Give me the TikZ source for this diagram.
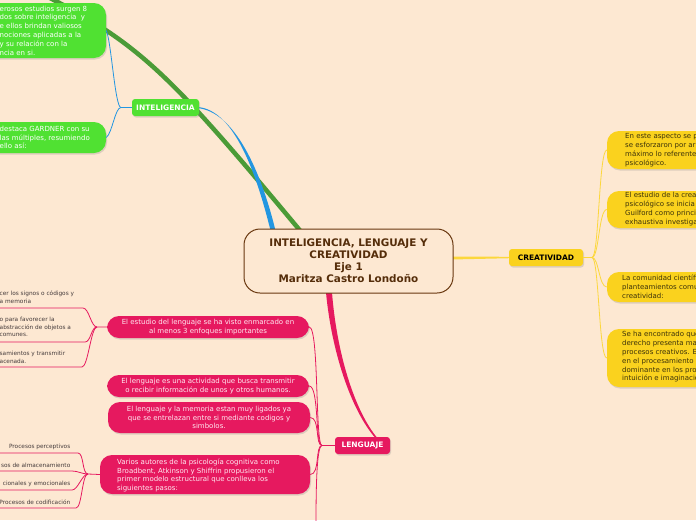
\documentclass[tikz,border=0pt]{standalone}
\usepackage{fontspec}
\setmainfont{DejaVu Sans}
\usetikzlibrary{calc,shadows,positioning}
\definecolor{MmPeach}{RGB}{253,232,210}
\definecolor{MmBrown}{RGB}{105,55,15}
\definecolor{MmBrownText}{RGB}{85,45,10}
\definecolor{MmGreen}{RGB}{80,225,50}
\definecolor{MmDarkGreen}{RGB}{75,155,55}
\definecolor{MmBlue}{RGB}{35,150,225}
\definecolor{MmYellow}{RGB}{250,210,30}
\definecolor{MmYellowLine}{RGB}{252,215,60}
\definecolor{MmPink}{RGB}{230,25,95}
\definecolor{MmPinkText}{RGB}{255,232,240}
\definecolor{MmInk}{RGB}{60,50,10}
\definecolor{MmGrayText}{RGB}{70,60,60}
\pgfdeclarelayer{paper}
\pgfdeclarelayer{branches}
\pgfsetlayers{paper,branches,main}
\tikzset{
  mm/central/.style={
    draw=MmBrown,
    line width=1pt,
    rounded corners=16pt,
    fill=MmPeach,
    text=MmBrownText,
    align=center,
    inner sep=0pt,
    minimum width=209pt,
    minimum height=64pt,
    font=\fontsize{10.4}{12}\selectfont\bfseries
  },
  mm/shadow/.style={drop shadow={shadow xshift=1pt, shadow yshift=-1.5pt, opacity=0.25}},
  mm/topic/.style={
    mm/shadow,
    rounded corners=3pt,
    inner sep=0pt,
    minimum height=17pt,
    font=\fontsize{7.5}{9}\selectfont\bfseries
  },
  mm/bubble/.style={
    mm/shadow,
    rounded corners=12pt,
    inner sep=0pt
  },
  mm/pinkbubble/.style={
    mm/bubble,
    fill=MmPink,
    text=MmPinkText,
    align=center,
    font=\fontsize{7}{8.8}\selectfont
  },
  mm/bubbletext/.style={inner sep=0pt, align=left, font=\fontsize{7}{8.8}\selectfont},
  mm/subtext/.style={inner sep=0pt, text=MmGrayText, font=\fontsize{5.8}{7.8}\selectfont},
  mm/thin/.style={line width=0.8pt},
  mm/bluethin/.style={mm/thin, draw=MmBlue},
  mm/yellowthin/.style={mm/thin, draw=MmYellowLine},
  mm/pinkthin/.style={mm/thin, draw=MmPink}
}
\begin{document}
\begin{tikzpicture}[x=1pt,y=-1pt]
  \useasboundingbox (0,0) rectangle (696,520);
  \begin{pgfonlayer}{paper}
    \fill[MmPeach] (0,0) rectangle (696,520);
  \end{pgfonlayer}

  % central topic and main topics
  \node[mm/central] (central) at (348.5,261) {INTELIGENCIA, LENGUAJE Y\\CREATIVIDAD\\Eje 1\\Maritza Castro Londoño};
  \node[mm/topic,fill=MmGreen,text=white,minimum width=67pt] (inteligencia) at (165.5,107.5) {INTELIGENCIA};
  \node[mm/topic,fill=MmYellow,text=black,minimum width=74pt] (creatividad) at (546,257.5) {CREATIVIDAD};
  \node[mm/topic,fill=MmPink,text=white,minimum width=55pt] (lenguaje) at (362.5,445.5) {LENGUAJE};

  % inteligencia
  \node[mm/bubble,fill=MmGreen,minimum width=150pt,minimum height=55pt] (intA) at (31,30.5) {};
  \node[mm/bubbletext,text=white,anchor=west] (intAtext) at (-0.5,30.5)
    {erosos estudios surgen 8\\dos sobre inteligencia\ \ y\\e ellos brindan valiosos\\nociones aplicadas a la\\y su relación con la\\ncia en si.};
  \node[mm/bubble,fill=MmGreen,minimum width=150pt,minimum height=31pt] (intB) at (31,137.5) {};
  \node[mm/bubbletext,text=white,anchor=west] (intBtext) at (-0.5,137.5)
    {destaca GARDNER con su\\las múltiples, resumiendo\\ello así:};
  \coordinate (ij) at (121,107.5);
  \draw[mm/bluethin] (inteligencia.west) -- (ij) .. controls +(-6,0) and +(5,10) .. (intA.east);
  \draw[mm/bluethin] (ij) .. controls +(-6,0) and +(6,-4) .. (intB.east);

  % creatividad
  \node[mm/bubble,fill=MmYellow,minimum width=150pt,minimum height=38pt] (creA) at (682,150) {};
  \node[mm/bubbletext,text=MmInk,anchor=west] (creAtext) at (625,150)
    {En este aspecto se p\\se esforzaron por ar\\máximo lo referente\\psicológico.};
  \node[mm/bubble,fill=MmYellow,minimum width=150pt,minimum height=37pt] (creB) at (682,209.5) {};
  \node[mm/bubbletext,text=MmInk,anchor=west] (creBtext) at (625,209)
    {El estudio de la crea\\psicológico se inicia\\Guilford como princi\\exhaustiva investiga};
  \node[mm/bubble,fill=MmYellow,minimum width=150pt,minimum height=30pt] (creC) at (682,287) {};
  \node[mm/bubbletext,text=MmInk,anchor=west] (creCtext) at (622,287)
    {La comunidad científi\\planteamientos comu\\creatividad:};
  \node[mm/bubble,fill=MmYellow,minimum width=150pt,minimum height=58pt] (creD) at (682,358) {};
  \node[mm/bubbletext,text=MmInk,anchor=west] (creDtext) at (622,357)
    {Se ha encontrado que\\derecho presenta ma\\procesos creativos. E\\en el procesamiento\\dominante en los pro\\intuición e imaginació};
  \coordinate (cj) at (592,257.5);
  \draw[mm/yellowthin] (creatividad.east) -- (cj) .. controls +(7,0) and +(-8,0) .. (creA.west);
  \draw[mm/yellowthin] (cj) .. controls +(7,0) and +(-8,0) .. (creB.west);
  \draw[mm/yellowthin] (cj) .. controls +(7,0) and +(-8,0) .. (creC.west);
  \draw[mm/yellowthin] (cj) .. controls +(7,0) and +(-8,0) .. (creD.west);

  % lenguaje
  \node[mm/pinkbubble,minimum width=202pt,minimum height=22pt] (lenA) at (208,327)
    {El estudio del lenguaje se ha visto enmarcado en\\al menos 3 enfoques importantes};
  \node[mm/pinkbubble,minimum width=202pt,minimum height=22pt] (lenB) at (208,386)
    {El lenguaje es una actividad que busca transmitir\\o recibir información de unos y otros humanos.};
  \node[mm/pinkbubble,minimum width=202pt,minimum height=31pt] (lenC) at (209,417.5)
    {El lenguaje y la memoria estan muy ligados ya\\que se entrelazan entre si mediante codigos y\\simbolos.};
  \node[mm/bubble,fill=MmPink,minimum width=210pt,minimum height=39pt] (lenD) at (205,474.5) {};
  \node[mm/bubbletext,text=MmPinkText,anchor=west] (lenDtext) at (117,475.5)
    {Varios autores de la psicología cognitiva como\\Broadbent, Atkinson y Shiffrin propusieron el\\primer modelo estructural que conlleva los\\siguientes pasos:};
  \coordinate (lj) at (322,445.5);
  \coordinate (lout) at (316,530);
  \draw[mm/pinkthin] (lenguaje.west) -- (lj) .. controls +(-7,0) and +(10,0) .. (lenA.east);
  \draw[mm/pinkthin] (lj) .. controls +(-7,0) and +(10,0) .. (lenB.east);
  \draw[mm/pinkthin] (lj) .. controls +(-7,0) and +(10,0) .. (lenC.east);
  \draw[mm/pinkthin] (lj) .. controls +(-7,0) and +(10,0) .. (lenD.east);
  \draw[mm/pinkthin] (lj) .. controls +(-6,0) and +(0,-30) .. (lout);

  % enfoques
  \node[mm/subtext,align=left,anchor=west] (enfA) at (-0.5,297.5) {cer los signos o códigos y\\a memoria};
  \node[mm/subtext,align=left,anchor=west] (enfB) at (-0.5,327) {o para favorecer la\\abstracción de objetos a\\comunes.};
  \node[mm/subtext,align=left,anchor=west] (enfC) at (-0.5,357) {samientos y transmitir\\acenada.};
  \coordinate (aj) at (97,327);
  \coordinate (enfA-end) at (83,308);
  \coordinate (enfB-end) at (85,342);
  \coordinate (enfC-end) at (82,367);
  \draw[mm/pinkthin] (lenA.west) -- (aj) .. controls +(-6,0) and +(6,0) .. (enfA-end) -- ++(-90,0);
  \draw[mm/pinkthin] (aj) .. controls +(-6,0) and +(6,0) .. (enfB-end) -- ++(-90,0);
  \draw[mm/pinkthin] (aj) .. controls +(-6,0) and +(6,0) .. (enfC-end) -- ++(-90,0);

  % pasos
  \node[mm/subtext,anchor=east] (pasoA) at (70.5,447) {Procesos perceptivos};
  \node[mm/subtext,anchor=east] (pasoB) at (70.5,465) {sos de almacenamiento};
  \node[mm/subtext,anchor=east] (pasoC) at (70.5,484) {cionales y emocionales};
  \node[mm/subtext,anchor=east] (pasoD) at (70.5,502) {Procesos de codificación};
  \coordinate (dj) at (88,474);
  \coordinate (pasoA-end) at (78,453);
  \coordinate (pasoB-end) at (72,471);
  \coordinate (pasoC-end) at (72,490);
  \coordinate (pasoD-end) at (76,508);
  \draw[mm/pinkthin] (lenD.west) -- (dj) .. controls +(-6,0) and +(6,0) .. (pasoA-end) -- ++(-90,0);
  \draw[mm/pinkthin] (dj) .. controls +(-6,0) and +(6,0) .. (pasoB-end) -- ++(-90,0);
  \draw[mm/pinkthin] (dj) .. controls +(-6,0) and +(6,0) .. (pasoC-end) -- ++(-90,0);
  \draw[mm/pinkthin] (dj) .. controls +(-6,0) and +(6,0) .. (pasoD-end) -- ++(-90,0);

  % main branches under the nodes
  \coordinate (c-green) at ($(central.north)+(-48.5,2)$);
  \coordinate (g-out) at (40,-7);
  \coordinate (c-blue) at ($(central.north)+(-75.5,2)$);
  \coordinate (c-pink) at ($(central.south)+(-19.5,-1)$);
  \coordinate (l-pink) at ($(lenguaje.north)+(14.5,2)$);
  \coordinate (c-yellow) at ($(central.east)+(-2,-3)$);
  \begin{pgfonlayer}{branches}
    \draw[MmDarkGreen,line width=4.5pt] (c-green) .. controls +(-130,-156) and +(100,50) .. (g-out);
    \fill[MmBlue] ($(c-blue)+(-2.5,0)$) .. controls +(-15,-61) and +(35.5,2) .. ($(inteligencia.east)+(-2,-0.5)$)
      -- ($(inteligencia.east)+(-2,0.5)$) .. controls +(37,3.5) and +(-15,-61) .. ($(c-blue)+(2.5,0)$) -- cycle;
    \fill[MmPink] ($(c-pink)+(-3,0)$) .. controls +(5.5,58) and +(-25.5,-29) .. ($(l-pink)+(-1,0)$)
      -- ($(l-pink)+(1,0)$) .. controls +(-24.5,-29) and +(4.5,58) .. ($(c-pink)+(3,0)$) -- cycle;
    \fill[MmYellowLine] ($(c-yellow)+(0,-1.5)$) -- ($(creatividad.west)+(1,-0.7)$)
      -- ($(creatividad.west)+(1,0.7)$) -- ($(c-yellow)+(0,1.5)$) -- cycle;
  \end{pgfonlayer}
\end{tikzpicture}
\end{document}
